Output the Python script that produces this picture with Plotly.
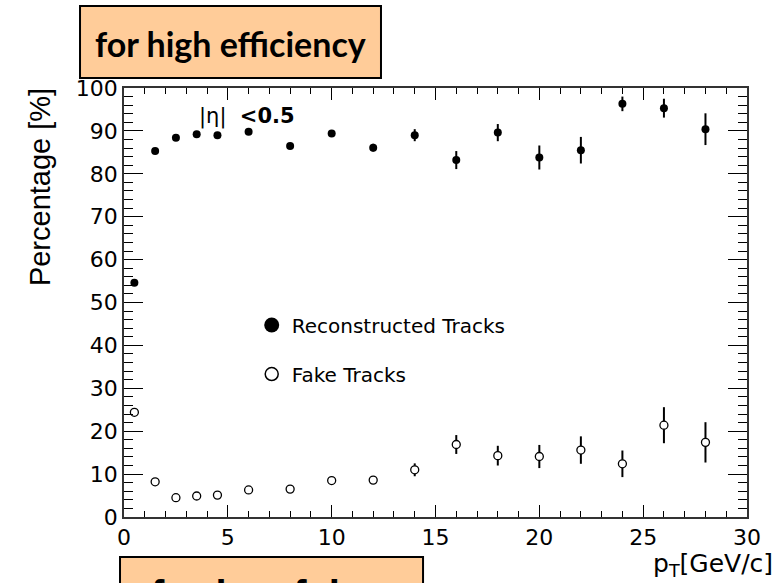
import plotly.graph_objects as go

# Transverse-momentum bins (GeV/c)
pt = [0.5, 1.5, 2.5, 3.5, 4.5, 6, 8, 10, 12, 14, 16, 18, 20, 22, 24, 26, 28]

# Reconstructed-track efficiency (%) and its uncertainty
reco = [54.6, 85.3, 88.4, 89.2, 89.0, 89.8, 86.5, 89.4, 86.1, 89.0, 83.2, 89.6, 83.8, 85.5, 96.3, 95.3, 90.4]
reco_err = [0.3, 0.4, 0.4, 0.4, 0.4, 0.5, 0.6, 0.7, 0.9, 1.4, 2.1, 2.0, 2.8, 3.1, 1.7, 2.2, 3.7]

# Fake-track fraction (%) and its uncertainty
fake = [24.4, 8.2, 4.5, 4.9, 5.1, 6.3, 6.5, 8.5, 8.6, 11.0, 16.9, 14.3, 14.1, 15.6, 12.4, 21.4, 17.4]
fake_err = [0.3, 0.3, 0.3, 0.3, 0.3, 0.4, 0.5, 0.6, 0.8, 1.5, 2.2, 2.3, 2.7, 3.2, 3.1, 4.2, 4.7]

legend_names = ["Reconstructed Tracks", "Fake Tracks"]

BOX_FILL = "#FFCC99"
TICK_FONT = dict(family="DejaVu Sans", size=22, color="black")

fig = go.Figure()

fig.add_trace(go.Scatter(
    x=pt, y=reco, mode="markers", showlegend=False,
    marker=dict(symbol="circle", size=8, color="black"),
    error_y=dict(type="data", array=reco_err, color="black", thickness=2, width=0),
))
fig.add_trace(go.Scatter(
    x=pt, y=fake, mode="markers", showlegend=False,
    marker=dict(symbol="circle", size=8, color="white", line=dict(color="black", width=1.3)),
    error_y=dict(type="data", array=fake_err, color="black", thickness=2, width=0),
))

# Legend entries with larger symbols
fig.add_trace(go.Scatter(
    x=[None], y=[None], mode="markers", name=legend_names[0], legend="legend",
    marker=dict(symbol="circle", size=15, color="black"),
))
fig.add_trace(go.Scatter(
    x=[None], y=[None], mode="markers", name=legend_names[1], legend="legend2",
    marker=dict(symbol="circle", size=13, color="white", line=dict(color="black", width=1.5)),
))

axis_common = dict(
    ticks="inside", mirror="ticks", showline=True, linecolor="#333333", linewidth=1.5,
    tickcolor="black", tickwidth=1, showgrid=False, zeroline=False,
    tickfont=TICK_FONT,
)

fig.update_xaxes(
    range=[0, 30], dtick=5, tick0=0, ticklen=12,
    minor=dict(dtick=1, ticklen=6, ticks="inside", tickcolor="black", showgrid=False),
    **axis_common,
)
fig.update_yaxes(
    range=[0, 100], dtick=10, tick0=0, ticklen=19,
    minor=dict(dtick=2, ticklen=9, ticks="inside", tickcolor="black", showgrid=False),
    **axis_common,
)

legend_font = dict(family="DejaVu Sans", size=20, color="black")
fig.update_layout(
    width=780, height=583,
    margin=dict(l=124, r=33, t=88, b=66),
    paper_bgcolor="white", plot_bgcolor="white",
    legend=dict(x=0.205, y=0.4476, xanchor="left", yanchor="middle",
                font=legend_font, bgcolor="rgba(0,0,0,0)", itemsizing="trace"),
    legend2=dict(x=0.205, y=0.3333, xanchor="left", yanchor="middle",
                 font=legend_font, bgcolor="rgba(0,0,0,0)", itemsizing="trace"),
)

# Labelled boxes above and below the frame
fig.add_shape(type="rect", xref="paper", yref="paper",
              x0=-0.0706, x1=0.4125, y0=1.0233, y1=1.1911,
              fillcolor=BOX_FILL, line=dict(color="black", width=2), layer="above")
fig.add_shape(type="rect", xref="paper", yref="paper",
              x0=-0.0064, x1=0.48, y0=-0.30, y1=-0.0932,
              fillcolor=BOX_FILL, line=dict(color="black", width=2), layer="above")

fig.add_annotation(text="<b>for high efficiency</b>", xref="paper", yref="paper",
                   x=0.1717, y=1.1026, xanchor="center", yanchor="middle", showarrow=False,
                   font=dict(family="Lato", size=34, color="black"))
fig.add_annotation(text="<b>for low fake</b>", xref="paper", yref="paper",
                   x=0.221, y=-0.126, xanchor="center", yanchor="top", showarrow=False,
                   font=dict(family="Liberation Sans", size=40, color="black"))

# Axis titles
fig.add_annotation(text="Percentage [%]", xref="paper", yref="paper",
                   x=-0.1348, y=0.769, xanchor="center", yanchor="middle", textangle=-90,
                   showarrow=False, font=dict(family="Liberation Sans", size=29, color="black"))
fig.add_annotation(text="p<sub>T</sub>[GeV/c]", xref="paper", yref="paper",
                   x=1.045, y=-0.112, xanchor="right", yanchor="middle",
                   showarrow=False, font=dict(family="DejaVu Sans", size=25, color="black"))

# Pseudorapidity selection
fig.add_annotation(text="|η|&nbsp;&nbsp;<b>&lt;0.5</b>", xref="paper", yref="paper",
                   x=0.117, y=0.9347, xanchor="left", yanchor="middle",
                   showarrow=False, font=dict(family="DejaVu Sans", size=21, color="black"))

fig.write_html("out.html")
